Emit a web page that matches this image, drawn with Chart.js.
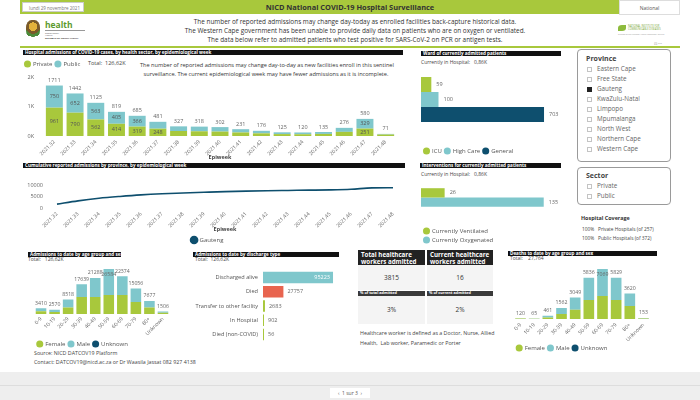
<!DOCTYPE html>
<html>
<head>
<meta charset="utf-8">
<script src="https://cdn.jsdelivr.net/npm/chart.js@4.4.0/dist/chart.umd.min.js"></script>
<style>
body{margin:0;width:700px;height:400px;overflow:hidden;background:#fff;font-family:'Open Sans',sans-serif;position:relative;color:#333;}
.a{position:absolute;white-space:nowrap;line-height:1;}
.bar{position:absolute;background:#111;color:#fff;font-size:4.6px;font-weight:bold;line-height:5px;padding-left:2px;box-sizing:border-box;overflow:hidden;white-space:nowrap;}
canvas{position:absolute;}
.box{position:absolute;border:1px solid #9a9a9a;border-radius:4px;box-sizing:border-box;}
.item{position:absolute;left:9px;font-size:6.3px;color:#666;line-height:1;white-space:nowrap;}
.item i{display:inline-block;width:5px;height:5px;border:0.8px solid #c4c4c4;margin-right:5px;vertical-align:-1px;box-sizing:border-box;}
.hdr{position:absolute;background:#222;color:#fff;font-size:6.2px;font-weight:bold;line-height:7px;padding:1px 3px;box-sizing:border-box;}
.cell{position:absolute;background:#f4f4f4;text-align:center;font-size:6.5px;color:#333;}
.sub{position:absolute;background:#3a3a3a;color:#fff;font-size:3.8px;font-weight:bold;line-height:4.5px;padding-left:2px;box-sizing:border-box;}
</style>
</head>
<body>
<!-- header -->
<div class="a" style="left:20px;top:0;width:660px;height:14px;background:#a8c83c;"></div>
<div class="a" style="left:22px;top:2px;width:62px;height:10px;background:#fff;border:0.5px solid #ccc;font-size:4.5px;color:#777;line-height:10px;padding-left:6px;box-sizing:border-box;">lundi 29 novembre 2021</div>
<div class="a" style="left:0;top:3.5px;width:700px;text-align:center;font-size:7.4px;font-weight:bold;color:#333;">NICD National COVID-19 Hospital Surveillance</div>
<div class="a" style="left:619px;top:0;width:61px;height:15px;background:#fff;border:0.5px solid #ddd;font-size:5px;color:#555;line-height:15px;text-align:center;box-sizing:border-box;">National</div>

<div class="a" style="left:26px;top:20px;width:14px;height:19px;border-radius:40% 40% 45% 45%;background:radial-gradient(circle at 50% 35%,#e3b23c 0 30%,#7a5a2a 31% 50%,#4d8a3a 51% 70%,#fff 71%);"></div>
<div class="a" style="left:45px;top:21px;font-size:8.5px;font-weight:bold;color:#5c9a2e;">health</div>
<div class="a" style="left:45px;top:30px;width:40px;height:0.5px;background:#999;"></div>
<div class="a" style="left:45px;top:32px;font-size:2.4px;color:#555;">Department:<br>Health</div>
<div class="a" style="left:45px;top:37px;font-size:2.4px;font-weight:bold;color:#333;">REPUBLIC OF SOUTH AFRICA</div>

<div class="a" style="left:0;top:16.5px;width:710px;text-align:center;font-size:6.4px;color:#333;line-height:9px;">The number of reported admissions may change day-today as enrolled facilities back-capture historical data.<br>The Western Cape government has been unable to provide daily data on patients who are on oxygen or ventilated.<br>The data below refer to admitted patients who test positive for SARS-CoV-2 on PCR or antigen tests.</div>

<div class="a" style="left:618px;top:25px;width:8px;height:6px;background:#8dbb3c;border-radius:50% 0 50% 0;"></div>
<div class="a" style="left:628px;top:25px;font-size:2.6px;color:#7aa83a;line-height:3.3px;">NATIONAL INSTITUTE FOR<br>COMMUNICABLE DISEASES</div>
<div class="a" style="left:618px;top:34px;font-size:2px;color:#999;">Division of the National Health Laboratory Service</div>
<div class="a" style="left:654px;top:42px;font-size:4px;color:#999;">⊡ ⋯</div>
<div class="a" style="left:20px;top:46px;width:660px;height:1.5px;background:#a8c83c;"></div>

<!-- section title bars -->
<div class="bar" style="left:23px;top:49.5px;width:380px;height:5px;">Hospital admissions of COVID-19 cases, by health sector, by epidemiological week</div>
<div class="bar" style="left:23px;top:162.5px;width:382px;height:5px;">Cumulative reported admissions by province, by epidemiological week</div>
<div class="bar" style="left:421px;top:51px;width:140px;height:5px;">Ward of currently admitted patients</div>
<div class="bar" style="left:420px;top:162.5px;width:141px;height:5px;">Interventions for currently admitted patients</div>
<div class="bar" style="left:28px;top:251.5px;width:93px;height:5px;">Admissions to date by age group and sex</div>
<div class="bar" style="left:193px;top:251.5px;width:146px;height:5px;">Admissions to date by discharge type</div>
<div class="bar" style="left:508px;top:251px;width:149px;height:5px;">Deaths to date by age group and sex</div>

<div class="a" style="left:88px;top:61px;font-size:5.5px;color:#444;">Total:&nbsp;&nbsp;126,62K</div>
<div class="a" style="left:140px;top:61px;width:252px;text-align:center;font-size:5.6px;color:#333;line-height:9px;">The number of reported admissions may change day-to-day as new facilities enroll in this sentinel<br>surveillance. The current epidemiological week may have fewer admissions as it is incomplete.</div>
<div class="a" style="left:421px;top:59.5px;font-size:5px;color:#444;">Currently in Hospital:&nbsp;&nbsp;&nbsp;0,86K</div>
<div class="a" style="left:421px;top:171.5px;font-size:5px;color:#444;">Currently in Hospital:&nbsp;&nbsp;&nbsp;0,86K</div>
<div class="a" style="left:28px;top:257px;font-size:5px;color:#444;">Total:&nbsp;&nbsp;&nbsp;126,62K</div>
<div class="a" style="left:195px;top:257px;font-size:5px;color:#444;">Total:&nbsp;&nbsp;126,62K</div>
<div class="a" style="left:510px;top:256px;font-size:5px;color:#444;">Total:&nbsp;&nbsp;&nbsp;&nbsp;27,764</div>

<!-- slicers -->
<div class="box" style="left:577px;top:49px;width:94px;height:113px;">
  <div class="a" style="left:8px;top:5px;font-size:7px;font-weight:bold;color:#444;">Province</div>
  <div class="item" style="top:16px;"><i></i>Eastern Cape</div>
  <div class="item" style="top:26px;"><i></i>Free State</div>
  <div class="item" style="top:36px;"><i style="background:#222;border-color:#222;"></i>Gauteng</div>
  <div class="item" style="top:46px;"><i></i>KwaZulu-Natal</div>
  <div class="item" style="top:56px;"><i></i>Limpopo</div>
  <div class="item" style="top:65.5px;"><i></i>Mpumalanga</div>
  <div class="item" style="top:75.5px;"><i></i>North West</div>
  <div class="item" style="top:85.5px;"><i></i>Northern Cape</div>
  <div class="item" style="top:95.5px;"><i></i>Western Cape</div>
</div>
<div class="box" style="left:577px;top:167px;width:94px;height:38px;">
  <div class="a" style="left:8px;top:4px;font-size:7px;font-weight:bold;color:#444;">Sector</div>
  <div class="item" style="top:15px;"><i></i>Private</div>
  <div class="item" style="top:25px;"><i></i>Public</div>
</div>
<div class="a" style="left:581px;top:216px;font-size:5.4px;font-weight:bold;color:#333;">Hospital Coverage</div>
<div class="a" style="left:582px;top:226.5px;font-size:4.8px;color:#444;">100%</div>
<div class="a" style="left:598px;top:226.5px;font-size:4.8px;color:#444;">Private Hospitals (of 257)</div>
<div class="a" style="left:582px;top:235.5px;font-size:4.8px;color:#444;">100%</div>
<div class="a" style="left:598px;top:235.5px;font-size:4.8px;color:#444;">Public Hospitals (of 372)</div>

<!-- healthcare workers -->
<div class="hdr" style="left:358px;top:250px;width:67px;height:15px;">Total healthcare<br>workers admitted</div>
<div class="hdr" style="left:427px;top:250px;width:66px;height:15px;">Current healthcare<br>workers admitted</div>
<div class="cell" style="left:358px;top:265px;width:67px;height:25px;line-height:25px;">3815</div>
<div class="cell" style="left:427px;top:265px;width:66px;height:25px;line-height:25px;">16</div>
<div class="sub" style="left:358px;top:291px;width:67px;height:4.5px;">% of total admitted</div>
<div class="sub" style="left:427px;top:291px;width:66px;height:4.5px;">% of current admitted</div>
<div class="cell" style="left:358px;top:296px;width:67px;height:28px;line-height:28px;">3%</div>
<div class="cell" style="left:427px;top:296px;width:66px;height:28px;line-height:28px;">2%</div>
<div class="a" style="left:360px;top:328px;font-size:5.3px;color:#444;line-height:10px;">Healthcare worker is defined as a Doctor, Nurse, Allied<br>Health,&nbsp; Lab worker, Paramedic or Porter</div>

<div class="a" style="left:34px;top:350.5px;font-size:5.3px;color:#444;">Source: NICD DATCOV19 Platform</div>
<div class="a" style="left:34px;top:359.5px;font-size:5.3px;color:#444;">Contact: DATCOV19@nicd.ac.za or Dr Waasila Jassat 082 927 4138</div>

<!-- footer -->
<div class="a" style="left:0;top:372px;width:700px;height:28px;background:#eeeeee;"></div>
<div class="a" style="left:0;top:385px;width:700px;height:0.5px;background:#ddd;"></div>
<div class="a" style="left:330px;top:388px;width:40px;height:10px;background:#fff;font-size:5px;color:#555;line-height:10px;text-align:center;">‹&nbsp;&nbsp;1 sur 3&nbsp;&nbsp;›</div>

<canvas id="weekly" width="382" height="104" style="left:22px;top:58px;"></canvas>
<canvas id="cumul" width="383" height="85" style="left:22px;top:168px;"></canvas>
<canvas id="ward" width="150" height="99" style="left:418px;top:65px;"></canvas>
<canvas id="interv" width="150" height="75" style="left:418px;top:178px;"></canvas>
<canvas id="ageAdm" width="147" height="95" style="left:25px;top:262px;"></canvas>
<canvas id="discharge" width="155" height="88" style="left:190px;top:262px;"></canvas>
<canvas id="deaths" width="155" height="99" style="left:505px;top:262px;"></canvas>

<script>
// data
const weeks = ['2021.32','2021.33','2021.34','2021.35','2021.36','2021.37','2021.38','2021.39','2021.40','2021.41','2021.42','2021.43','2021.44','2021.45','2021.46','2021.47','2021.48'];
const privateAdm = [961, 790, 562, 414, 319, 248, 170, 160, 150, 120, 90, 65, 60, 70, 140, 251, 50];
const publicAdm = [750, 652, 563, 405, 366, 233, 157, 158, 152, 111, 86, 60, 60, 65, 136, 329, 21];
const gautengCumulative = [1711, 3153, 4278, 5097, 5782, 6263, 6590, 6908, 7210, 7441, 7617, 7742, 7862, 7997, 8273, 8853, 8924];

const wardICU = [59];
const wardHighCare = [100];
const wardGeneral = [703];
const ventilated = [26];
const oxygenated = [135];

const ageGroups = ['0-9','10-19','20-29','30-39','40-49','50-59','60-69','70-79','80+','Unknown'];
const admFemale = [1650, 1250, 3900, 10000, 10000, 11200, 11200, 7100, 3800, 700];
const admMale = [1760, 1320, 4618, 7639, 11288, 15384, 11174, 7956, 3877, 806];
const admUnknown = [0, 0, 0, 0, 0, 0, 0, 0, 0, 0];

const dischargeTypes = ['Discharged alive','Died','Transfer to other facility','In Hospital','Died (non-COVID)'];
const dischargeCounts = [95223, 27757, 2683, 902, 56];

const deathFemale = [55, 30, 200, 700, 1300, 2700, 3240, 2700, 1850, 60];
const deathMale = [65, 35, 261, 862, 1749, 3136, 3829, 3129, 1770, 93];
const deathUnknown = [0, 0, 0, 0, 0, 0, 0, 0, 0, 0];

const GREEN = '#a8c83c', TEAL = '#7fc7cc', NAVY = '#0e4f6e', RED = '#e8644f';

Chart.defaults.font.family = "'Open Sans', sans-serif";
Chart.defaults.font.size = 6;
Chart.defaults.color = '#666';
Chart.defaults.animation = false;
Chart.defaults.plugins.tooltip.enabled = false;

// value labels drawn on top of / at the end of the bars
const barLabels = {
  id: 'barLabels',
  afterDatasetsDraw(chart, args, opts) {
    if (!opts.mode) return;
    const ctx = chart.ctx;
    const area = chart.chartArea;
    const metas = chart.getSortedVisibleDatasetMetas();
    ctx.save();
    ctx.font = (opts.size || 5.5) + "px 'Open Sans', sans-serif";
    ctx.textBaseline = 'middle';
    if (opts.mode === 'total') {
      ctx.textAlign = 'center';
      chart.data.labels.forEach((lab, i) => {
        let total = 0, top = Infinity, x = 0;
        metas.forEach(m => {
          const v = chart.data.datasets[m.index].data[i];
          const el = m.data[i];
          total += v;
          top = Math.min(top, el.y);
          x = el.x;
          if (opts.segMin && el.base - el.y >= opts.segMin) {
            ctx.fillStyle = opts.segColor;
            ctx.fillText(String(v), el.x, (el.y + el.base) / 2);
          }
        });
        let y = top - 5;
        if (y - 3 < area.top) y = top + 5;
        ctx.fillStyle = opts.color;
        ctx.fillText(String(total), x, y);
      });
    } else {
      metas.forEach(m => {
        m.data.forEach((el, i) => {
          const txt = String(chart.data.datasets[m.index].data[i]);
          const w = ctx.measureText(txt).width;
          if (el.x + 4 + w > area.right) {
            ctx.textAlign = 'right';
            ctx.fillStyle = '#fff';
            ctx.fillText(txt, el.x - 3, el.y);
          } else {
            ctx.textAlign = 'left';
            ctx.fillStyle = opts.color;
            ctx.fillText(txt, el.x + (opts.gap || 4), el.y);
          }
        });
      });
    }
    ctx.restore();
  }
};

function legendOpts(position, align, pad) {
  return {
    position: position,
    align: align,
    labels: {usePointStyle: true, pointStyle: 'circle', boxWidth: 5, boxHeight: 5, padding: pad, color: '#555', font: {size: 6}}
  };
}
const noGrid = {display: false, drawTicks: false};
const noBorder = {display: false};

// weekly admissions by sector
new Chart(document.getElementById('weekly'), {
  type: 'bar',
  data: {
    labels: weeks,
    datasets: [
      {label: 'Private', data: privateAdm, backgroundColor: GREEN},
      {label: 'Public', data: publicAdm, backgroundColor: TEAL}
    ]
  },
  options: {
    responsive: false,
    layout: {padding: {right: 8}},
    datasets: {bar: {categoryPercentage: 0.82, barPercentage: 1}},
    scales: {
      x: {
        stacked: true, grid: noGrid, border: noBorder,
        ticks: {autoSkip: false, minRotation: 45, maxRotation: 45, padding: 3, font: {size: 5.2}},
        title: {display: true, text: 'Epiweek', color: '#444', font: {size: 5.5, weight: 'bold'}, padding: {top: 0, bottom: 1}},
        afterFit: s => { s.height = 26; }
      },
      y: {
        stacked: true, min: 0, max: 2000, grid: noGrid, border: noBorder,
        ticks: {stepSize: 1000, padding: 10, font: {size: 5.5}, callback: v => (v / 1000) + 'K'},
        afterFit: s => { s.width = 22; }
      }
    },
    plugins: {
      legend: legendOpts('top', 'start', 3),
      barLabels: {mode: 'total', color: '#666', size: 5.5, segMin: 7, segColor: '#555'}
    }
  },
  plugins: [barLabels]
});

// cumulative admissions line
new Chart(document.getElementById('cumul'), {
  type: 'line',
  data: {
    labels: weeks,
    datasets: [
      {label: 'Gauteng', data: gautengCumulative, borderColor: NAVY, backgroundColor: NAVY, borderWidth: 1.6, pointRadius: 0, cubicInterpolationMode: 'monotone'}
    ]
  },
  options: {
    responsive: false,
    layout: {padding: {top: 7, right: 12}},
    scales: {
      x: {
        grid: noGrid, border: noBorder,
        ticks: {autoSkip: false, minRotation: 45, maxRotation: 45, padding: 3, font: {size: 5.2}},
        title: {display: true, text: 'Epiweek', color: '#444', font: {size: 5.5, weight: 'bold'}, padding: {top: 0, bottom: 1}},
        afterFit: s => { s.height = 26; }
      },
      y: {
        min: 0, max: 10000, grid: noGrid, border: noBorder,
        ticks: {stepSize: 5000, padding: 14, font: {size: 5.5}, callback: v => String(v)},
        afterFit: s => { s.width = 35; }
      }
    },
    plugins: {legend: legendOpts('bottom', 'center', 3)}
  }
});

// ward of currently admitted
new Chart(document.getElementById('ward'), {
  type: 'bar',
  data: {
    labels: [''],
    datasets: [
      {label: 'ICU', data: wardICU, backgroundColor: GREEN},
      {label: 'High Care', data: wardHighCare, backgroundColor: TEAL},
      {label: 'General', data: wardGeneral, backgroundColor: NAVY}
    ]
  },
  options: {
    responsive: false,
    indexAxis: 'y',
    layout: {padding: {left: 3, right: 7, top: 5}},
    datasets: {bar: {categoryPercentage: 0.763, barPercentage: 1}},
    scales: {
      x: {min: 0, max: 800, grid: noGrid, border: noBorder, ticks: {display: false}, afterFit: s => { s.height = 16; }},
      y: {display: false}
    },
    plugins: {
      legend: legendOpts('bottom', 'start', 3),
      barLabels: {mode: 'end', color: '#666', size: 5.5, gap: 5}
    }
  },
  plugins: [barLabels]
});

// interventions
new Chart(document.getElementById('interv'), {
  type: 'bar',
  data: {
    labels: [''],
    datasets: [
      {label: 'Currently Ventilated', data: ventilated, backgroundColor: GREEN},
      {label: 'Currently Oxygenated', data: oxygenated, backgroundColor: TEAL}
    ]
  },
  options: {
    responsive: false,
    indexAxis: 'y',
    layout: {padding: {left: 3, right: 7, top: 4}},
    datasets: {bar: {categoryPercentage: 0.6, barPercentage: 1}},
    scales: {
      x: {min: 0, max: 154, grid: noGrid, border: noBorder, ticks: {display: false}, afterFit: s => { s.height = 12; }},
      y: {display: false}
    },
    plugins: {
      legend: legendOpts('bottom', 'start', 3),
      barLabels: {mode: 'end', color: '#666', size: 5.5, gap: 5}
    }
  },
  plugins: [barLabels]
});

function ageChart(id, female, male, unknown, max, padding, axisH, tickPad) {
  return new Chart(document.getElementById(id), {
    type: 'bar',
    data: {
      labels: ageGroups,
      datasets: [
        {label: 'Female', data: female, backgroundColor: GREEN},
        {label: 'Male', data: male, backgroundColor: TEAL},
        {label: 'Unknown', data: unknown, backgroundColor: NAVY}
      ]
    },
    options: {
      responsive: false,
      layout: {padding: padding},
      datasets: {bar: {categoryPercentage: 0.78, barPercentage: 1}},
      scales: {
        x: {
          stacked: true, grid: noGrid, border: noBorder,
          ticks: {autoSkip: false, minRotation: 45, maxRotation: 45, padding: tickPad, font: {size: 5.2}},
          afterFit: s => { s.height = axisH; }
        },
        y: {stacked: true, display: false, min: 0, max: max}
      },
      plugins: {
        legend: legendOpts('bottom', 'start', 3),
        barLabels: {mode: 'total', color: '#666', size: 5.2}
      }
    },
    plugins: [barLabels]
  });
}

ageChart('ageAdm', admFemale, admMale, admUnknown, 27800, {left: 9.25, right: 2.25, top: 5}, 24, 2);
ageChart('deaths', deathFemale, deathMale, deathUnknown, 7500, {left: 8.7, right: 9.7, top: 4}, 23, 3);

// discharge type
new Chart(document.getElementById('discharge'), {
  type: 'bar',
  data: {
    labels: dischargeTypes,
    datasets: [
      {label: 'Admissions', data: dischargeCounts, backgroundColor: [TEAL, RED, GREEN, GREEN, GREEN], minBarLength: 1}
    ]
  },
  options: {
    responsive: false,
    indexAxis: 'y',
    layout: {padding: {right: 7, top: 6, bottom: 1}},
    datasets: {bar: {categoryPercentage: 0.8, barPercentage: 1}},
    scales: {
      x: {display: false, min: 0, max: 102000},
      y: {
        grid: noGrid, border: noBorder,
        ticks: {padding: 5, color: '#555', font: {size: 5.6}},
        afterFit: s => { s.width = 73; }
      }
    },
    plugins: {
      legend: {display: false},
      barLabels: {mode: 'end', color: '#666', size: 5.5, gap: 4}
    }
  },
  plugins: [barLabels]
});
</script>
</body>
</html>
